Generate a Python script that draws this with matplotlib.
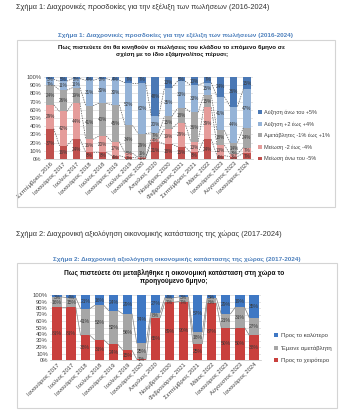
import matplotlib
matplotlib.use("Agg")
import matplotlib.pyplot as plt
from matplotlib.patches import Rectangle, Patch
import numpy as np

plt.rcParams['font.family'] = ['Liberation Sans', 'DejaVu Sans']

W, H = 356, 412

# ---------------- Chart 1 data ----------------
cats1 = ["Σεπτέμβριος 2016", "Ιανουάριος 2017", "Ιούλιος 2017", "Ιανουάριος 2018",
         "Ιούλιος 2018", "Ιανουάριος 2019", "Ιούλιος 2019", "Ιανουάριος 2020",
         "Απρίλιος 2020", "Νοέμβριος 2020", "Φεβρουάριος 2021", "Σεπτέμβριος 2021",
         "Μάιος 2022", "Ιανουάριος 2023", "Αύγουστος 2023", "Ιανουάριος 2024"]
dec_big = [37, 16, 24, 8, 8, 4, 2, 1, 21, 18, 15, 8, 24, 4, 3, 7]
dec_small = [29, 42, 44, 16, 20, 17, 5, 1, 4, 19, 29, 13, 39, 13, 3, 7]
stable1 = [24, 26, 19, 41, 40, 45, 34, 29, 7, 15, 18, 36, 15, 18, 14, 24]
inc_small = [7, 11, 11, 31, 30, 30, 52, 62, 20, 35, 33, 33, 15, 41, 44, 47]
inc_big = [3, 5, 2, 4, 2, 4, 7, 7, 48, 13, 5, 10, 7, 24, 36, 15]
series1_names = ["Μείωση άνω του -5%", "Μείωση -2 έως -4%", "Αμετάβλητες -1% έως +1%",
                 "Αύξηση +2 έως +4%", "Αύξηση άνω του +5%"]
series1_colors = ["#C0504D", "#E59C9A", "#A6A6A6", "#95B3D7", "#4A78B5"]

# ---------------- Chart 2 data ----------------
cats2 = ["Ιανουάριος 2017", "Ιούλιος 2017", "Ιανουάριος 2018", "Ιούλιος 2018",
         "Ιανουάριος 2019", "Ιούλιος 2019", "Ιανουάριος 2020", "Απρίλιος 2020",
         "Νοέμβριος 2020", "Φεβρουάριος 2021", "Σεπτέμβριος 2021", "Μάιος 2022",
         "Ιανουάριος 2023", "Αύγουστος 2023", "Ιανουάριος 2024"]
worse = [81, 81, 38, 31, 24, 15, 1, 65, 89, 90, 25, 87, 50, 50, 38]
same = [16, 15, 41, 53, 52, 56, 25, 8, 7, 7, 18, 8, 21, 31, 27]
better = [3, 4, 21, 16, 24, 29, 74, 27, 4, 3, 57, 5, 29, 19, 35]
series2_names = ["Προς το χειρότερο", "Έμεινε αμετάβλητη", "Προς το καλύτερο"]
series2_colors = ["#C9403D", "#A6A6A6", "#3F78C4"]

fig = plt.figure(figsize=(W / 100, H / 100), dpi=100)
fig.patch.set_facecolor("white")


def fx(x):
    return x / W


def fy(y):
    return 1 - y / H


def box(x0, y0, x1, y1):
    fig.patches.append(Rectangle((fx(x0), fy(y1)), fx(x1) - fx(x0), fy(y0) - fy(y1),
                                 transform=fig.transFigure, fill=False,
                                 edgecolor="#d4d4d4", linewidth=0.8))


def stacked(ax, cats, series, colors, width, line_style, line_color, label_fs, min_gap):
    n = len(cats)
    x = np.arange(n)
    bottom = np.zeros(n)
    tops = []
    centers = []
    for vals, col in zip(series, colors):
        vals = np.array(vals, dtype=float)
        ax.bar(x, vals, width=width, bottom=bottom, color=col, edgecolor="none", zorder=2)
        centers.append(bottom + vals / 2)
        bottom = bottom + vals
        tops.append(bottom.copy())
    centers = np.array(centers)
    svals = np.array(series, dtype=float)
    # label placement: forward push up, then cap and push down
    ys = centers.copy()
    for i in range(n):
        for k in range(1, len(series)):
            ys[k, i] = max(ys[k, i], ys[k - 1, i] + min_gap)
        ys[-1, i] = min(ys[-1, i], 100 - min_gap / 2)
        for k in range(len(series) - 2, -1, -1):
            ys[k, i] = min(ys[k, i], ys[k + 1, i] - min_gap)
        for k in range(len(series)):
            if svals[k, i] > 0:
                ax.text(x[i], ys[k, i], f"{int(svals[k, i])}%", ha="center",
                        va="center", fontsize=label_fs, color="#3a3a3a", zorder=4)
    # series lines
    for t in tops[:-1]:
        for i in range(n - 1):
            ax.plot([x[i] + width / 2, x[i + 1] - width / 2], [t[i], t[i + 1]],
                    linestyle=line_style, color=line_color, linewidth=0.5, zorder=3)
    ax.set_xlim(-0.5, n - 0.5)
    ax.set_ylim(0, 100)
    ax.set_yticks(np.arange(0, 101, 10))
    ax.set_yticklabels([f"{v}%" for v in range(0, 101, 10)], fontsize=4.2, color="#404040")
    ax.set_xticks(x)
    ax.set_xticklabels(cats, rotation=45, ha="right", rotation_mode="anchor",
                       fontsize=4.2, color="#404040")
    ax.grid(axis="y", color="#d9d9d9", linewidth=0.5, zorder=0)
    ax.set_axisbelow(True)
    for s in ["top", "right", "left"]:
        ax.spines[s].set_visible(False)
    ax.spines["bottom"].set_color("#bfbfbf")
    ax.spines["bottom"].set_linewidth(0.5)
    ax.tick_params(axis="both", length=0, pad=1.5)


# ---------------- Chart 1 ----------------
fig.text(fx(16), fy(7), "Σχήμα 1: Διαχρονικές προσδοκίες για την εξέλιξη των πωλήσεων (2016-2024)",
         fontsize=5.35, color="#333333", ha="left", va="center")
fig.text(fx(175), fy(35), "Σχήμα 1: Διαχρονικές προσδοκίες για την εξέλιξη των πωλήσεων (2016-2024)",
         fontsize=4.6, color="#4F81BD", fontweight="bold", ha="center", va="center")
box(17, 40, 335, 207)
fig.text(fx(172), fy(51), "Πως πιστεύετε ότι θα κινηθούν οι πωλήσεις του κλάδου το επόμενο 6μηνο σε\n"
         "σχέση με το ίδιο εξάμηνο/έτος πέρυσι;", fontsize=4.4, fontweight="bold",
         color="#111111", ha="center", va="center", linespacing=1.35)

ax1 = fig.add_axes([fx(43.5), fy(159), fx(253.5) - fx(43.5), fy(77) - fy(159)])
stacked(ax1, cats1, [dec_big, dec_small, stable1, inc_small, inc_big], series1_colors,
        0.56, (0, (2, 1.5)), "#555555", 3.3, 5.8)

handles1 = [Patch(facecolor=c, edgecolor="none") for c in series1_colors][::-1]
fig.legend(handles1, series1_names[::-1], loc="upper left",
           bbox_to_anchor=(fx(258), fy(110)), frameon=False, fontsize=4.0,
           handlelength=0.7, handleheight=0.7, handletextpad=0.4, labelspacing=1.15,
           labelcolor="#404040", borderaxespad=0, borderpad=0)

# ---------------- Chart 2 ----------------
fig.text(fx(16), fy(234), "Σχήμα 2: Διαχρονική αξιολόγηση οικονομικής κατάστασης της χώρας (2017-2024)",
         fontsize=5.35, color="#333333", ha="left", va="center")
fig.text(fx(177), fy(259), "Σχήμα 2: Διαχρονική αξιολόγηση οικονομικής κατάστασης της χώρας (2017-2024)",
         fontsize=4.6, color="#4F81BD", fontweight="bold", ha="center", va="center")
box(17, 263, 337, 408)
fig.text(fx(174), fy(277), "Πως πιστεύετε ότι μεταβλήθηκε η οικονομική κατάσταση στη χώρα το\n"
         "προηγούμενο 6μηνο;", fontsize=4.8, fontweight="bold",
         color="#111111", ha="center", va="center", linespacing=1.35)

ax2 = fig.add_axes([fx(50), fy(360), fx(261) - fx(50), fy(295) - fy(360)])
stacked(ax2, cats2, [worse, same, better], series2_colors, 0.66, "-", "#808080", 3.6, 7.5)

handles2 = [Patch(facecolor=c, edgecolor="none") for c in series2_colors][::-1]
fig.legend(handles2, series2_names[::-1], loc="upper left",
           bbox_to_anchor=(fx(274), fy(333)), frameon=False, fontsize=4.3,
           handlelength=0.7, handleheight=0.7, handletextpad=0.4, labelspacing=1.25,
           labelcolor="#404040", borderaxespad=0, borderpad=0)

fig.savefig("out.png", dpi=100, facecolor="white")
